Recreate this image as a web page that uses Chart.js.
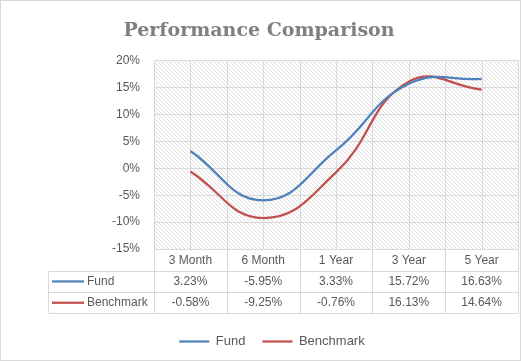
<!DOCTYPE html>
<html>
<head>
<meta charset="utf-8">
<script src="https://cdn.jsdelivr.net/npm/chart.js@4"></script>
<style>html,body{margin:0;padding:0;background:#fff}</style>
</head>
<body>
<canvas id="chart" width="521" height="361"></canvas>
<script>
const categories = ['3 Month', '6 Month', '1 Year', '3 Year', '5 Year'];
const fundValues = [3.23, -5.95, 3.33, 15.72, 16.63];
const benchmarkValues = [-0.58, -9.25, -0.76, 16.13, 14.64];
const seriesNames = ['Fund', 'Benchmark'];
const seriesColors = ['#4f81bd', '#c0504d'];
const yMin = -15, yMax = 20, yStep = 5;

const textColor = '#595959';
const lineColor = '#d9d9d9';
const font = 'Liberation Sans';

// motif hachuré de la zone de traçage
function hatch(ctx) {
  const s = 4;
  const c = document.createElement('canvas');
  c.width = s; c.height = s;
  const g = c.getContext('2d');
  g.strokeStyle = '#dedede';
  g.lineWidth = 1;
  for (let k = -1; k <= 1; k++) {
    g.beginPath();
    g.moveTo(k * s, 0);
    g.lineTo(k * s + s, s);
    g.stroke();
  }
  return ctx.createPattern(c, 'repeat');
}

const plotBackground = {
  id: 'plotBackground',
  beforeDraw(chart) {
    const {ctx, chartArea: a} = chart;
    ctx.save();
    ctx.fillStyle = '#fff';
    ctx.fillRect(0, 0, chart.width, chart.height);
    ctx.strokeStyle = lineColor;
    ctx.strokeRect(0.5, 0.5, chart.width - 1, chart.height - 1);
    ctx.fillStyle = hatch(ctx);
    ctx.fillRect(a.left, a.top, a.right - a.left, a.bottom - a.top);
    ctx.restore();
  },
  beforeDatasetsDraw(chart) {
    const {ctx, chartArea: a, scales: {x}} = chart;
    const half = (x.getPixelForValue(1) - x.getPixelForValue(0)) / 2;
    ctx.save();
    ctx.strokeStyle = lineColor;
    ctx.lineWidth = 1;
    for (let i = 0; i < categories.length; i++) {
      const c = x.getPixelForValue(i);
      [c - half, c, c + half].forEach(px => {
        const p = Math.round(px) + 0.5;
        ctx.beginPath();
        ctx.moveTo(p, a.top);
        ctx.lineTo(p, a.bottom);
        ctx.stroke();
      });
    }
    ctx.restore();
  }
};

// tableau de données sous le graphique
const dataTable = {
  id: 'dataTable',
  afterLayout(chart) {
    // décale la légende comme dans Excel
    chart.legend.left += 13;
    chart.legend.right += 13;
    chart.legend.top -= 3;
    chart.legend.bottom -= 3;
  },
  afterDraw(chart) {
    const {ctx, chartArea: a, scales: {x}} = chart;
    const rowH = 21.3;
    const top = Math.round(a.bottom) + 0.5;
    const tableLeft = 48.5;
    const half = (x.getPixelForValue(1) - x.getPixelForValue(0)) / 2;
    const rows = [fundValues, benchmarkValues];
    ctx.save();
    ctx.strokeStyle = lineColor;
    ctx.lineWidth = 1;
    for (let r = 1; r <= 3; r++) {
      const y = Math.round(top + r * rowH) + 0.5;
      ctx.beginPath();
      ctx.moveTo(tableLeft, y);
      ctx.lineTo(Math.round(a.right) + 0.5, y);
      ctx.stroke();
    }
    const bottom = Math.round(top + 3 * rowH) + 0.5;
    const xs = [];
    for (let i = 0; i < categories.length; i++) xs.push(x.getPixelForValue(i) - half);
    xs.push(x.getPixelForValue(categories.length - 1) + half);
    xs.forEach(px => {
      const p = Math.round(px) + 0.5;
      ctx.beginPath();
      ctx.moveTo(p, top);
      ctx.lineTo(p, bottom);
      ctx.stroke();
    });
    ctx.beginPath();
    ctx.moveTo(tableLeft, Math.round(top + rowH) + 0.5);
    ctx.lineTo(tableLeft, bottom);
    ctx.stroke();

    ctx.font = '12px "' + font + '"';
    ctx.textBaseline = 'middle';
    rows.forEach((vals, r) => {
      const cy = top + (r + 1.5) * rowH;
      ctx.strokeStyle = seriesColors[r];
      ctx.lineWidth = 2.25;
      ctx.beginPath();
      ctx.moveTo(52, cy);
      ctx.lineTo(84, cy);
      ctx.stroke();
      ctx.fillStyle = textColor;
      ctx.textAlign = 'left';
      ctx.fillText(seriesNames[r], 87, cy);
      ctx.textAlign = 'center';
      vals.forEach((v, i) => {
        ctx.fillText(v.toFixed(2) + '%', x.getPixelForValue(i), cy);
      });
    });
    ctx.restore();
  }
};

new Chart(document.getElementById('chart'), {
  type: 'line',
  data: {
    labels: categories,
    datasets: [
      {
        label: seriesNames[0],
        data: fundValues,
        borderColor: seriesColors[0],
        backgroundColor: seriesColors[0],
        borderWidth: 2.25,
      },
      {
        label: seriesNames[1],
        data: benchmarkValues,
        borderColor: seriesColors[1],
        backgroundColor: seriesColors[1],
        borderWidth: 2.25,
      },
    ],
  },
  options: {
    responsive: false,
    animation: false,
    layout: {padding: {left: 0, right: 3, top: 0, bottom: 0}},
    elements: {
      line: {tension: 0.45, fill: false},
      point: {radius: 0, hoverRadius: 0, pointStyle: 'line'},
    },
    scales: {
      x: {
        offset: true,
        grid: {display: false, drawTicks: false},
        border: {display: false},
        ticks: {font: {family: font, size: 12}, color: textColor, padding: 4, maxRotation: 0},
        afterFit(s) { s.height = 72; },
      },
      y: {
        min: yMin,
        max: yMax,
        grid: {color: lineColor, drawTicks: false},
        border: {display: false},
        ticks: {
          stepSize: yStep,
          font: {family: font, size: 12},
          color: textColor,
          padding: 14,
          callback: v => v + '%',
        },
        afterFit(s) { s.width = 154; },
      },
    },
    plugins: {
      title: {
        display: true,
        text: 'Performance Comparison',
        color: '#7f7f7f',
        font: {family: 'DejaVu Serif', size: 19, weight: 'bold'},
        padding: {top: 20, bottom: 18},
      },
      legend: {
        position: 'bottom',
        labels: {
          usePointStyle: true,
          pointStyle: 'line',
          pointStyleWidth: 30,
          font: {family: font, size: 13},
          color: textColor,
          padding: 17,
        },
      },
      tooltip: {enabled: false},
    },
  },
  plugins: [plotBackground, dataTable],
});
</script>
</body>
</html>
